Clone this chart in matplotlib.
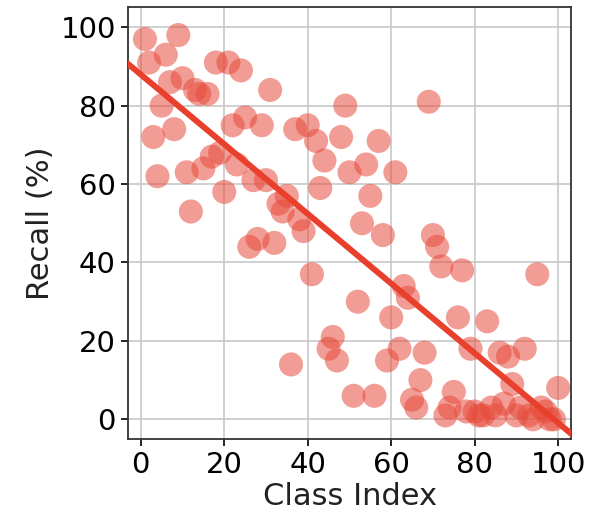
import numpy as np
import matplotlib
matplotlib.use("Agg")
import matplotlib.pyplot as plt

# class index and recall (%)
class_index = list(range(1, 101))
recall = [97, 91, 72, 62, 80, 93, 86, 74, 98, 87,
          63, 53, 84, 83, 64, 83, 67, 91, 68, 58,
          91, 75, 65, 89, 77, 44, 61, 46, 75, 61,
          84, 45, 55, 53, 57, 14, 74, 51, 48, 75,
          37, 71, 59, 66, 18, 21, 15, 72, 80, 63,
          6, 30, 50, 65, 57, 6, 71, 47, 15, 26,
          63, 18, 34, 31, 5, 3, 10, 17, 81, 47,
          44, 39, 1, 3, 7, 26, 38, 2, 18, 2,
          1, 1, 25, 3, 1, 17, 4, 16, 9, 1,
          3, 18, 1, 0, 37, 3, 2, 0, 0, 8]

x_ticks = [0, 20, 40, 60, 80, 100]
y_ticks = [0, 20, 40, 60, 80, 100]

fig = plt.figure(figsize=(5.91, 5.17), dpi=100)
ax = fig.add_axes([0.217, 0.151, 0.75, 0.835])

ax.scatter(class_index, recall, s=300, color="#e74c3c", alpha=0.55,
           edgecolors="none", zorder=2)

#linear fit of recall vs class index
slope, intercept = np.polyfit(class_index, recall, 1)
fit_x = np.array([-10, 110])
ax.plot(fit_x, slope * fit_x + intercept, color="#e8402c", linewidth=4.3, zorder=3)

ax.set_xlim(-3, 103.2)
ax.set_ylim(-5, 105.1)
ax.set_xticks(x_ticks)
ax.set_yticks(y_ticks)
ax.grid(True, color="#c8c8c8", linewidth=1.2, zorder=0)
ax.set_axisbelow(True)
ax.tick_params(labelsize=21, length=5, width=1.2, pad=4)
for sp in ax.spines.values():
    sp.set_linewidth(1.3)
    sp.set_color("#333333")
ax.set_xlabel("Class Index", fontsize=22, labelpad=2, color="#222222")
ax.set_ylabel("Recall (%)", fontsize=22, labelpad=4, color="#222222")

fig.savefig("out.png", dpi=100)
